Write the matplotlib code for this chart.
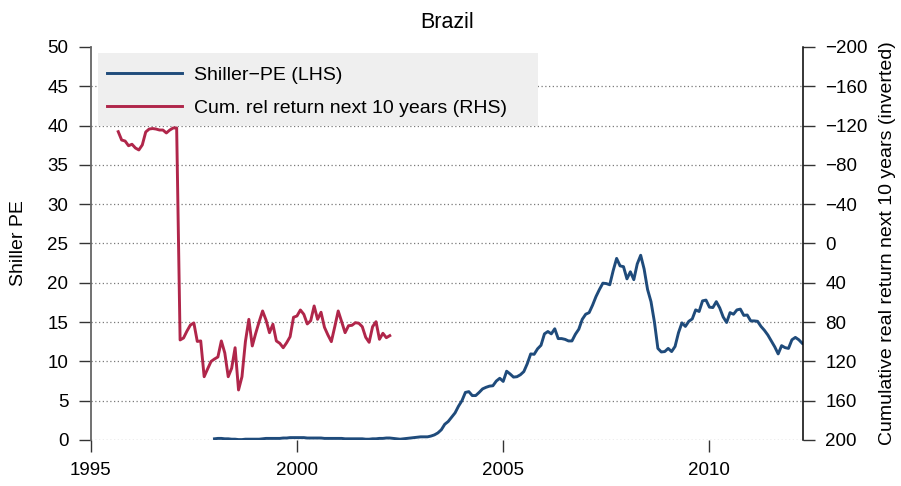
import numpy as np
import matplotlib
matplotlib.use("Agg")
import matplotlib.pyplot as plt
from matplotlib.patches import Rectangle

plt.rcParams['font.family'] = ['Liberation Sans', 'DejaVu Sans']

BLUE = '#1F4B7B'
RED = '#B0264A'

# ---------------------------------------------------------------------------
# Data (monthly)
# ---------------------------------------------------------------------------
# Shiller-PE, Jan 1998 onwards
pe_start = (1998, 1)
shiller_pe = [
    0.15, 0.2, 0.2, 0.15, 0.15, 0.1, 0.1, 0.05, 0.05, 0.1, 0.1, 0.1,
    0.1, 0.1, 0.15, 0.2, 0.2, 0.2, 0.2, 0.2, 0.25, 0.25, 0.3, 0.3,
    0.3, 0.3, 0.3, 0.25, 0.25, 0.25, 0.25, 0.25, 0.2, 0.2, 0.2, 0.2,
    0.2, 0.2, 0.15, 0.15, 0.15, 0.15, 0.15, 0.15, 0.1, 0.1, 0.15, 0.15,
    0.2, 0.2, 0.25, 0.25, 0.2, 0.15,
    0.1, 0.15, 0.2, 0.25, 0.3, 0.35,
    0.4, 0.4, 0.4, 0.5, 0.65, 0.9,
    1.3, 2.0, 2.35, 2.9, 3.45, 4.3,
    5.0, 6.05, 6.15, 5.65, 5.65, 6.05,
    6.5, 6.7, 6.85, 6.9, 7.5, 7.85,
    7.45, 8.75, 8.4, 8.0, 8.05, 8.3,
    8.7, 9.7, 10.95, 10.9, 11.6, 12.05,
    13.5, 13.8, 13.5, 14.15, 12.9, 12.9,
    12.8, 12.6, 12.6, 13.45, 14.1, 15.35,
    16.0, 16.2, 17.15, 18.25, 19.15, 19.95,
    19.9, 19.75, 21.55, 23.1, 22.15, 22.05,
    20.5, 21.4, 20.4, 22.4, 23.5, 21.75,
    19.15, 17.6, 15.0, 11.65, 11.2, 11.25,
    11.65, 11.25, 11.9, 13.65, 14.9, 14.45,
    15.1, 15.4, 16.55, 16.35, 17.7, 17.8,
    16.9, 16.85, 17.6, 16.8, 15.65, 14.95,
    16.2, 16.0, 16.55, 16.65, 15.85, 15.9,
    15.15, 15.15, 15.1, 14.45, 13.95, 13.35,
    12.6, 11.85, 10.95, 12.0, 11.75, 11.65,
    12.75, 13.05, 12.75, 12.3,
]

# Cumulative real return over the next 10 years, Sep 1995 onwards
ret_start = (1995, 9)
cum_return = [
    -113.8, -105.3, -104.3, -99.5, -101.0, -97.2, -95.2, -100.3, -113.5,
    -116.5, -117.0, -116.5, -115.5, -115.5, -112.5, -115.5, -117.6, -117.6,
    98.2, 96.2, 89.1, 83.0, 80.9, 99.7, 99.2, 135.6, 127.7, 120.1, 117.6,
    115.5, 99.2, 111.4, 135.6, 127.0, 106.1, 149.1, 135.6, 99.9, 77.2,
    104.3, 91.4, 79.6, 68.7, 77.9, 90.8, 82.2, 99.2, 101.6, 106.1, 101.0,
    94.9, 75.1, 73.8, 67.7, 72.1, 81.9, 78.6, 63.6, 77.2, 70.0, 85.3, 93.1,
    99.9, 84.7, 68.7, 79.6, 90.8, 83.7, 83.3, 80.6, 81.2, 84.7, 95.5, 100.6,
    84.7, 79.6, 97.5, 91.4, 95.9, 93.8,
]

left_ticks = list(range(0, 51, 5))
right_ticks = list(range(-200, 201, 40))
year_ticks = [1995, 2000, 2005, 2010]


def monthly_dates(start, n):
    y, m = start
    return y + (m - 1) / 12 + np.arange(n) / 12


t_pe = monthly_dates(pe_start, len(shiller_pe))
t_ret = monthly_dates(ret_start, len(cum_return))

# ---------------------------------------------------------------------------
# Figure
# ---------------------------------------------------------------------------
fig = plt.figure(figsize=(9.01, 4.86), dpi=100)
ax = fig.add_axes([0.1007, 0.0947, 0.7906, 0.8086])
ax2 = ax.twinx()

ax.plot(t_pe, shiller_pe, color=BLUE, lw=2.1, solid_joinstyle='round',
        label='Shiller\u2212PE (LHS)')
ax2.plot(t_ret, cum_return, color=RED, lw=2.1, solid_joinstyle='round',
         label='Cum. rel return next 10 years (RHS)')

ax.set_xlim(1995, 2012.27)
ax.set_ylim(0, 50)
ax2.set_ylim(200, -200)

ax.set_xticks(year_ticks)
ax.set_yticks(left_ticks)
ax2.set_yticks(right_ticks)

ax.yaxis.grid(True, linestyle=(0, (1, 2.0)), color='#7a7a7a', lw=0.9)
ax.get_ygridlines()[-1].set_visible(False)
ax.set_axisbelow(True)

for s in ('top', 'right', 'bottom'):
    ax.spines[s].set_visible(False)
for s in ('top', 'left', 'bottom'):
    ax2.spines[s].set_visible(False)
ax.spines['left'].set_color('#666666')
ax.spines['left'].set_linewidth(1.3)
ax2.spines['right'].set_color('black')
ax2.spines['right'].set_linewidth(1.1)

ax.tick_params(axis='both', direction='out', length=8.6, width=1.0,
               color='#333333', labelsize=13.5, pad=7.5)
ax2.tick_params(axis='y', direction='out', length=8.6, width=1.0,
                color='#333333', labelsize=13.5, pad=7.5)

ax.set_ylabel('Shiller PE', fontsize=14)
ax.yaxis.set_label_coords(-0.0894, 0.5)
ax2.set_ylabel('Cumulative real return next 10 years (inverted)', fontsize=14)
ax2.yaxis.set_label_coords(1.1067, 0.5)
ax.set_title('Brazil', fontsize=15.5, pad=14)

# legend with a flat grey box
box = Rectangle((0.0102, 0.799), 0.618, 0.186, transform=ax2.transAxes,
                facecolor='#EFEFEF', edgecolor='none', zorder=10)
ax2.add_patch(box)
h1, l1 = ax.get_legend_handles_labels()
h2, l2 = ax2.get_legend_handles_labels()
leg = ax2.legend(h1 + h2, l1 + l2, loc='upper left',
                 bbox_to_anchor=(0.0225, 0.951), borderaxespad=0, borderpad=0,
                 frameon=False, fontsize=14, handlelength=3.85,
                 handletextpad=0.62, labelspacing=0.78)
leg.set_zorder(11)

fig.savefig('out.png', dpi=100)
